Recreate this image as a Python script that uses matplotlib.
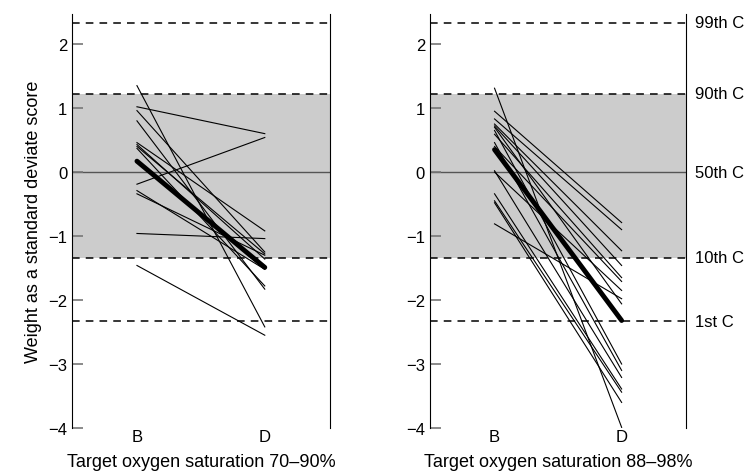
import matplotlib.pyplot as plt

plt.rcParams['font.family'] = ['Liberation Sans', 'DejaVu Sans']

left_B = [1.35, 1.02, -0.19, 0.96, 0.80, 0.46, 0.40, 0.37, -0.29, -0.34, -0.96, -1.46, 0.43]
left_D = [-2.42, 0.60, 0.54, -1.25, -1.83, -0.92, -1.28, -1.78, -1.52, -1.30, -1.04, -2.55, -1.36]
left_mean = [0.17, -1.49]

right_B = [1.31, 0.95, 0.83, 0.75, 0.72, 0.65, 0.59, 0.46, 0.40, 0.00, 0.02, -0.34, -0.45, -0.48, -0.81, 0.70]
right_D = [-3.99, -0.79, -0.90, -1.23, -1.46, -3.00, -1.65, -3.10, -1.71, -1.85, -3.21, -3.39, -3.44, -3.60, -1.98, -2.06]
right_mean = [0.35, -2.32]

centile_vals = [2.33, 1.22, 0.0, -1.34, -2.33]
centile_labels = ["99th C", "90th C", "50th C", "10th C", "1st C"]
xcats = ["B", "D"]
titles = ["Target oxygen saturation 70–90%", "Target oxygen saturation 88–98%"]

fig = plt.figure(figsize=(7.47, 4.77), dpi=100)
ax1 = fig.add_axes([0.0964, 0.1006, 0.345, 0.868])
ax2 = fig.add_axes([0.5756, 0.1006, 0.343, 0.868])

for ax, B, D, M, t in [(ax1, left_B, left_D, left_mean, titles[0]),
                       (ax2, right_B, right_D, right_mean, titles[1])]:
    ax.axhspan(centile_vals[3], centile_vals[1], color="#cccccc", zorder=0, lw=0)
    for v in [centile_vals[0], centile_vals[1], centile_vals[3], centile_vals[4]]:
        ax.axhline(v, color="black", ls=(0, (5, 4)), lw=1.1, zorder=1)
    ax.axhline(0, color="#555555", lw=1, zorder=1)
    for b, d in zip(B, D):
        ax.plot([0, 1], [b, d], color="black", lw=0.8, zorder=2)
    ax.plot([0, 1], M, color="black", lw=3.5, solid_capstyle="round", zorder=3)
    ax.set_xlim(-0.508, 1.508)
    ax.set_ylim(-4, 2.47)
    ax.set_yticks(range(-4, 3))
    ax.set_yticklabels([str(v).replace("-", "−") for v in range(-4, 3)], fontsize=12)
    ax.tick_params(axis="y", direction="in", length=8, color="#777777", width=1.2)
    ax.set_xticks([0, 1])
    ax.set_xticklabels(xcats, fontsize=12)
    ax.tick_params(axis="x", length=0, pad=1)
    ax.spines["top"].set_visible(False)
    ax.spines["bottom"].set_visible(False)
    ax.set_xlabel(t, fontsize=13, labelpad=6)

ax1.set_ylabel("Weight as a standard deviate score", fontsize=13)
for v, l in zip(centile_vals, centile_labels):
    ax2.text(1.035, v, l, transform=ax2.get_yaxis_transform(), va="center", ha="left", fontsize=12)

fig.savefig("out.png", dpi=100)
